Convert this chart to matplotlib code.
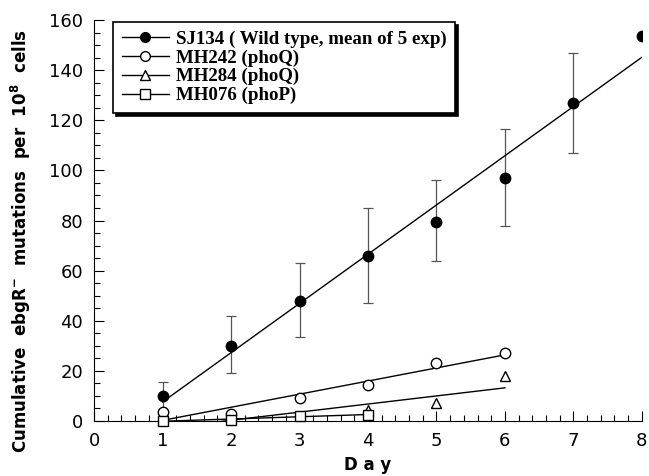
import numpy as np
import matplotlib
matplotlib.use("Agg")
import matplotlib.pyplot as plt
from matplotlib.ticker import MultipleLocator

# data
days_wt = [1, 2, 3, 4, 5, 6, 7, 8]
wt = [10, 30, 48, 66, 79.5, 97, 127, 153.5]
wt_lo = [4, 19, 33.5, 47, 64, 78, 107, 153.5]
wt_hi = [15.5, 42, 63, 85, 96, 116.5, 147, 153.5]

days_242 = [1, 2, 3, 4, 5, 6]
mh242 = [3.5, 3, 9, 14.5, 23, 27]

days_284 = [1, 2, 3, 4, 5, 6]
mh284 = [0, 0.5, 1, 4.5, 7, 18]

days_076 = [1, 2, 3, 4]
mh076 = [0, 0.5, 2, 2.5]

labels = ["SJ134 ( Wild type, mean of 5 exp)", "MH242 (phoQ)", "MH284 (phoQ)", "MH076 (phoP)"]

fig = plt.figure(figsize=(6.49, 4.76), dpi=100)
ax = fig.add_axes([0.145, 0.1155, 0.844, 0.8425])


def fit_line(x, y):
    x = np.asarray(x, float)
    k, b = np.polyfit(x, y, 1)
    return x, k * x + b


# wild type with error bars
wt = np.array(wt)
yerr = [wt - np.array(wt_lo), np.array(wt_hi) - wt]
ax.errorbar(days_wt[:-1], wt[:-1], yerr=[yerr[0][:-1], yerr[1][:-1]], fmt="none",
            ecolor="#555555", elinewidth=0.9, capsize=3.5, capthick=0.9, zorder=2)
fx, fy = fit_line(days_wt, wt)
ax.plot(fx, fy, color="black", lw=1, zorder=3)
ax.plot(days_wt, wt, "o", color="black", ms=7.5, zorder=4)

fx, fy = fit_line(days_242, mh242)
ax.plot(fx, fy, color="black", lw=1, zorder=3)
ax.plot(days_242, mh242, "o", mfc="white", mec="black", ms=7.5, mew=1, zorder=4)

fx, fy = fit_line(days_284, mh284)
ax.plot(fx, fy, color="black", lw=1, zorder=3)
ax.plot(days_284, mh284, "^", mfc="white", mec="black", ms=7, mew=1, zorder=4)

fx, fy = fit_line(days_076, mh076)
ax.plot(fx, fy, color="black", lw=1, zorder=3)
ax.plot(days_076, mh076, "s", mfc="white", mec="black", ms=7.5, mew=1, zorder=4, clip_on=False)

# legend handles
h1, = ax.plot([], [], "-o", color="black", ms=7, lw=1)
h2, = ax.plot([], [], "-o", color="black", mfc="white", ms=7, lw=1)
h3, = ax.plot([], [], "-^", color="black", mfc="white", ms=6.5, lw=1)
h4, = ax.plot([], [], "-s", color="black", mfc="white", ms=7, lw=1)
leg = ax.legend([h1, h2, h3, h4], labels, loc="upper left", bbox_to_anchor=(0.035, 0.995),
                prop={"family": "Liberation Serif", "weight": "bold", "size": 13.6},
                frameon=True, fancybox=False, shadow={"color": "black", "alpha": 1},
                handlelength=2.5, labelspacing=0.08, borderpad=0.45, handletextpad=0.35,
                borderaxespad=0)
leg.get_frame().set_edgecolor("black")
leg.get_frame().set_linewidth(1.2)

ax.set_xlim(0, 8)
ax.set_ylim(0, 160)
ax.xaxis.set_major_locator(MultipleLocator(1))
ax.xaxis.set_minor_locator(MultipleLocator(0.2))
ax.yaxis.set_major_locator(MultipleLocator(20))
ax.yaxis.set_minor_locator(MultipleLocator(5))
ax.tick_params(which="major", direction="in", length=7, width=0.8, labelsize=13, pad=8)
ax.tick_params(which="minor", direction="in", length=4, width=0.8)
ax.spines["right"].set_color("none")
ax.spines["top"].set_color("none")

ax.set_xlabel("D a y", fontweight="bold", fontsize=12, labelpad=4)
ax.set_ylabel(r"Cumulative  ebgR$^{\mathbf{-}}$  mutations  per  10$^{\mathbf{8}}$  cells",
              fontweight="bold", fontsize=12)
ax.yaxis.set_label_coords(-0.112, 0.45)

fig.savefig("out.png", dpi=100)
